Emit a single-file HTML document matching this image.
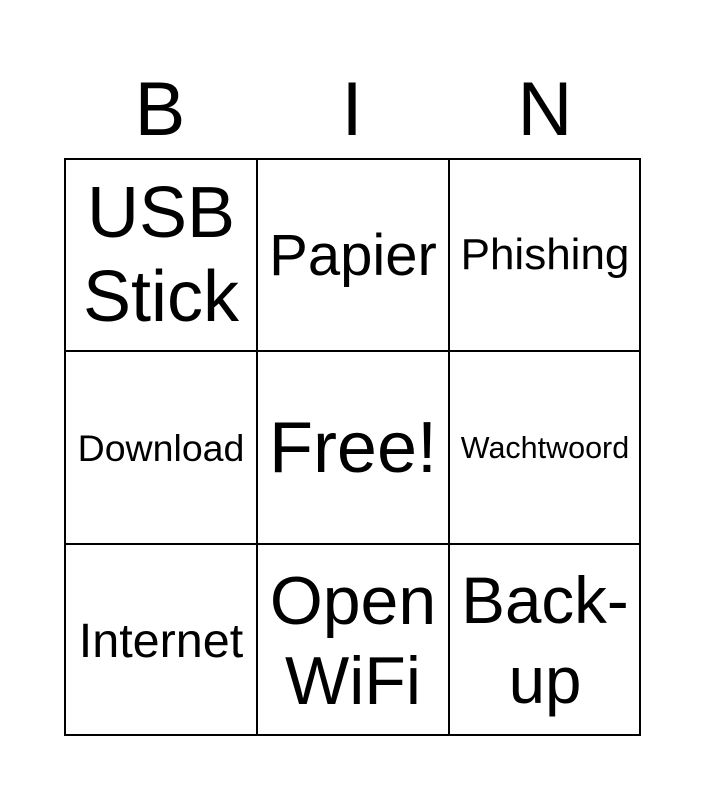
<!DOCTYPE html>
<html><head><meta charset="utf-8"><style>
html,body{margin:0;padding:0;background:#fff;}
body{width:705px;height:800px;position:relative;font-family:"Liberation Sans",Arial,sans-serif;color:#000;overflow:hidden;}
.h{position:absolute;top:62px;width:192px;text-align:center;font-size:76px;line-height:96px;}
.grid{position:absolute;left:64px;top:158px;width:577px;height:578px;border:2px solid #000;box-sizing:border-box;}
.c{position:absolute;width:192px;height:192px;display:flex;align-items:center;justify-content:center;text-align:center;box-sizing:border-box;white-space:nowrap;}
.vl{position:absolute;top:158px;width:2px;height:578px;background:#000;}
.hl{position:absolute;left:64px;height:2px;width:577px;background:#000;}
</style></head><body>
<div class="h" style="left:64px">B</div>
<div class="h" style="left:256px">I</div>
<div class="h" style="left:449px">N</div>
<div class="grid"></div>
<div class="vl" style="left:256px"></div>
<div class="vl" style="left:448px"></div>
<div class="hl" style="top:350px"></div>
<div class="hl" style="top:543px"></div>

<div class="c" style="left:65px;top:159px;font-size:72px;line-height:84px">USB<br>Stick</div>
<div class="c" style="left:257px;top:159px;font-size:58px">Papier</div>
<div class="c" style="left:449px;top:159px;font-size:44px">Phishing</div>

<div class="c" style="left:65px;top:352px;font-size:37.5px">Download</div>
<div class="c" style="left:257px;top:352px;font-size:72px">Free!</div>
<div class="c" style="left:449px;top:352px;font-size:30.5px">Wachtwoord</div>

<div class="c" style="left:65px;top:545px;font-size:48.5px">Internet</div>
<div class="c" style="left:257px;top:545px;font-size:68px;line-height:80px">Open<br>WiFi</div>
<div class="c" style="left:449px;top:545px;font-size:65.5px;line-height:80px">Back-<br>up</div>
</body></html>
